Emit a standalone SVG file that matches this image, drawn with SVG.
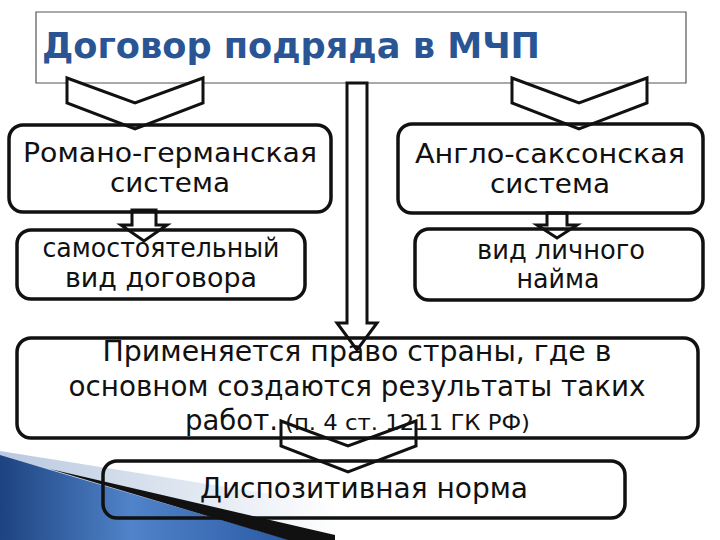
<svg xmlns="http://www.w3.org/2000/svg" width="720" height="540" viewBox="0 0 720 540">
  <style>
    .box { fill: none; stroke: #111; stroke-width: 3.5; }
    .conn { fill: #fff; stroke: #111; stroke-width: 3; stroke-linejoin: miter; }
    .t { font-family: "DejaVu Sans", "Noto Sans", sans-serif; fill: #111; text-anchor: middle; }
    .title { font-family: "DejaVu Sans", "Noto Sans", sans-serif; font-weight: bold; fill: #2A5594; }
  </style>
  <defs>
    <linearGradient id="blueG" x1="0" y1="0" x2="1" y2="0">
      <stop offset="0" stop-color="#1d4380"/>
      <stop offset="0.45" stop-color="#5083c9"/>
      <stop offset="1" stop-color="#2b5aa5"/>
    </linearGradient>
    <linearGradient id="paleG" x1="0" y1="0" x2="1" y2="0">
      <stop offset="0" stop-color="#b9c9e0"/>
      <stop offset="1" stop-color="#ffffff"/>
    </linearGradient>
  </defs>
  <rect width="720" height="540" fill="#fff"/>

  <g id="decoration">
    <polygon points="0,451 340,505 340,540 0,540" fill="url(#paleG)"/>
    <polygon points="0,455 50,470 290,540 0,540" fill="url(#blueG)"/>
    <polygon points="50,469 335,535 335,540 288,540" fill="#111"/>
  </g>

  <g id="title">
    <path d="M36,12 H686 V83 H36 Z" fill="#fff" stroke="#555" stroke-width="1.2"/>
    <text class="title" x="42" y="58" font-size="35" textLength="498" lengthAdjust="spacingAndGlyphs">Договор подряда в МЧП</text>
  </g>

  <g id="connectors">
    <polygon class="conn" points="67,78 135,103 203,78 203,103 135,129 67,103"/>
    <polygon class="conn" points="512,78 579,103 647,78 647,103 579,129 512,103"/>
    <polygon class="conn" points="347,83 367,83 367,323 377,323 357,350 337,323 347,323"/>
    <polygon class="conn" points="132,210 156,210 156,225 167,225 144,241 121,225 132,225"/>
    <polygon class="conn" points="547,213 567,213 567,225 577,225 557,238 537,225 547,225"/>
    <polygon class="conn" points="281,421 348,446 416,421 416,446 348,472 281,446"/>
  </g>

  <g id="romano">
    <rect class="box" x="9" y="125" width="322" height="87" rx="14"/>
    <text class="t" x="170" y="162" font-size="27" textLength="294" lengthAdjust="spacingAndGlyphs">Романо-германская</text>
    <text class="t" x="170" y="192" font-size="27" textLength="120" lengthAdjust="spacingAndGlyphs">система</text>
  </g>

  <g id="anglo">
    <rect class="box" x="398" y="124" width="305" height="89" rx="14"/>
    <text class="t" x="550" y="163" font-size="27" textLength="270" lengthAdjust="spacingAndGlyphs">Англо-саксонская</text>
    <text class="t" x="550" y="193" font-size="27" textLength="120" lengthAdjust="spacingAndGlyphs">система</text>
  </g>

  <g id="samost">
    <rect class="box" x="17" y="230" width="288" height="69" rx="14"/>
    <text class="t" x="161" y="257" font-size="26" textLength="237" lengthAdjust="spacingAndGlyphs">самостоятельный</text>
    <text class="t" x="161" y="287" font-size="26" textLength="192" lengthAdjust="spacingAndGlyphs">вид договора</text>
  </g>

  <g id="naim">
    <rect class="box" x="415" y="229" width="288" height="71" rx="14"/>
    <text class="t" x="561" y="259" font-size="26" textLength="168" lengthAdjust="spacingAndGlyphs">вид личного</text>
    <text class="t" x="558" y="288" font-size="26" textLength="83" lengthAdjust="spacingAndGlyphs">найма</text>
  </g>

  <g id="pravo">
    <rect class="box" x="17" y="338" width="681" height="100" rx="14"/>
    <text class="t" x="357" y="361" font-size="28" textLength="509" lengthAdjust="spacingAndGlyphs">Применяется право страны, где в</text>
    <text class="t" x="357" y="396" font-size="28" textLength="577" lengthAdjust="spacingAndGlyphs">основном создаются результаты таких</text>
    <text class="t" x="185" y="430" font-size="28" style="text-anchor:start" textLength="93" lengthAdjust="spacingAndGlyphs">работ.</text>
    <text class="t" x="285" y="430" font-size="21" style="text-anchor:start" textLength="245" lengthAdjust="spacingAndGlyphs">(п. 4 ст. 1211 ГК РФ)</text>
  </g>

  <g id="dispoz">
    <rect class="box" x="103" y="461" width="522" height="57" rx="14"/>
    <text class="t" x="364" y="498" font-size="28" textLength="328" lengthAdjust="spacingAndGlyphs">Диспозитивная норма</text>
  </g>
</svg>
